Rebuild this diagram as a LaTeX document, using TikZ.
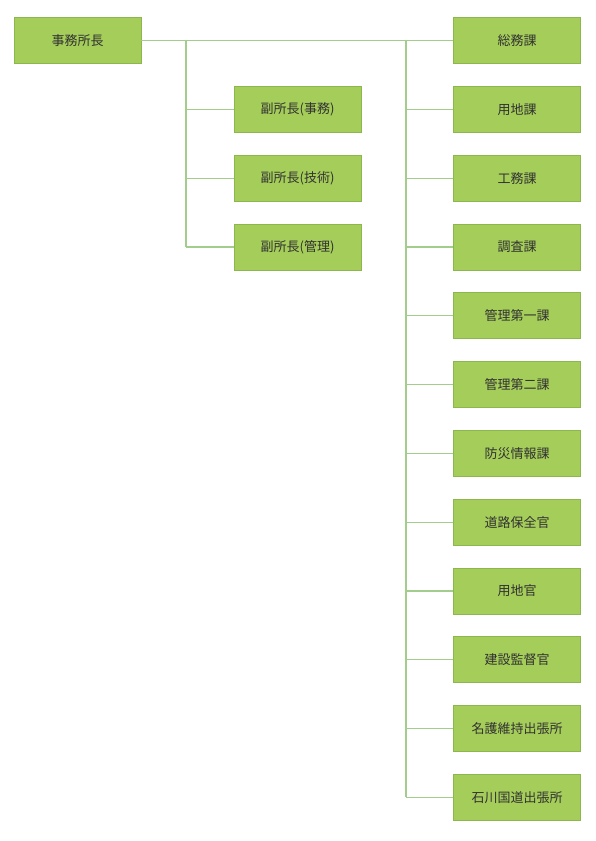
\documentclass[tikz,border=0pt]{standalone}
\usepackage{fontspec}
\setmainfont{Noto Sans CJK JP}
\usetikzlibrary{positioning, calc}
\definecolor{cBox}{RGB}{165,205,90}
\definecolor{cEdge}{RGB}{140,182,78}
\definecolor{cLine}{RGB}{163,205,140}
\definecolor{cText}{RGB}{50,50,50}

\begin{document}
\begin{tikzpicture}[x=1pt, y=-1pt,
                    unit/.style={rectangle, fill=cBox, draw=cEdge, line width=0.6pt,
                                 minimum width=127pt, minimum height=46pt, inner sep=0pt,
                                 text=cText, font=\fontsize{13}{15}\selectfont},
                    link/.style={draw=cLine, line width=1.2pt}]
    \useasboundingbox (0,0) rectangle (595,841);

    % Node Placements
    \node[unit] (head) at (77.5,40.5) {事務所長};

    \foreach \i/\txt in {1/副所長(事務), 2/副所長(技術), 3/副所長(管理)}
        \node[unit] (d\i) at (297.5,{40.5+68.8*\i}) {\txt};

    \foreach \i/\txt in {1/総務課, 2/用地課, 3/工務課, 4/調査課, 5/管理第一課,
                         6/管理第二課, 7/防災情報課, 8/道路保全官, 9/用地官,
                         10/建設監督官, 11/名護維持出張所, 12/石川国道出張所}
        \node[unit] (s\i) at (517,{40.5+68.8*(\i-1)}) {\txt};

    % Junctions
    \coordinate (jd) at (186,40.5);
    \coordinate (js) at (406,40.5);

    % Connectors
    \draw[link] (head.east) -- (s1.west);
    \draw[link] (jd) -- (jd |- d3.west);
    \foreach \i in {1,2,3}
        \draw[link] (jd |- d\i.west) -- (d\i.west);
    \draw[link] (js) -- (js |- s12.west);
    \foreach \i in {2,...,12}
        \draw[link] (js |- s\i.west) -- (s\i.west);
\end{tikzpicture}
\end{document}
